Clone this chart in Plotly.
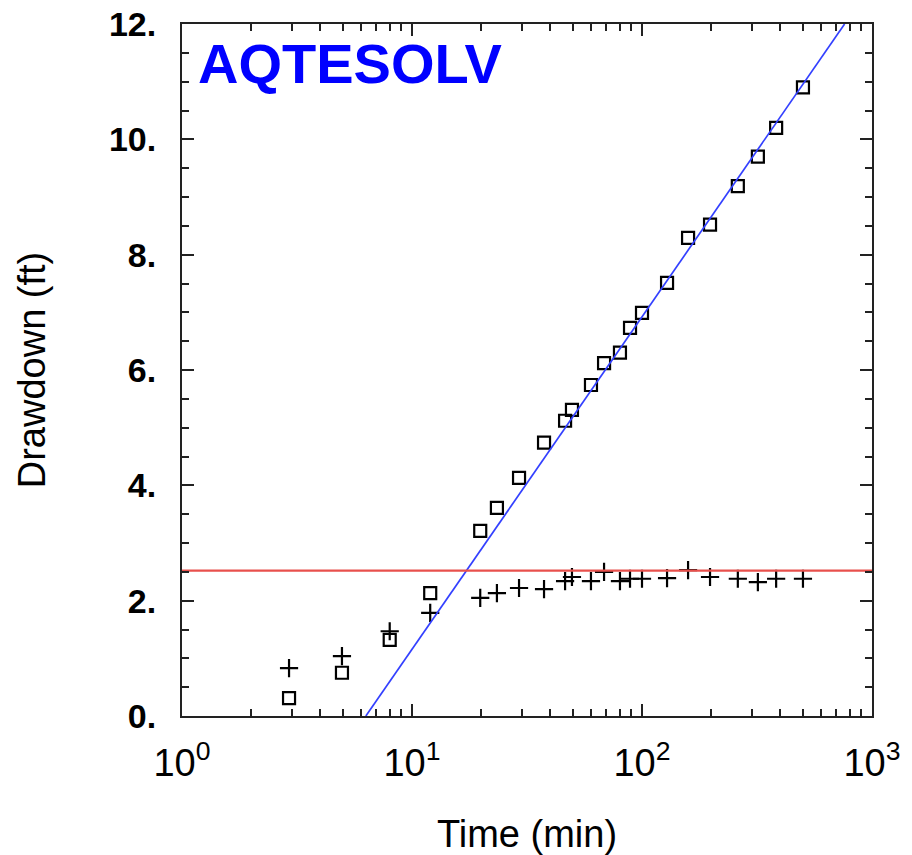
import plotly.graph_objects as go

# Data
time_min = [2.92, 4.96, 8.0, 12.0, 19.8, 23.4, 29.2, 37.5, 46.3, 49.6, 60.0,
            68.4, 80.2, 88.7, 100.0, 128.5, 158.6, 197.6, 261.0, 319.0, 383.0, 501.0]
drawdown_sq = [0.31, 0.75, 1.32, 2.13, 3.21, 3.61, 4.13, 4.74, 5.12, 5.31, 5.74,
               6.12, 6.30, 6.73, 6.99, 7.51, 8.29, 8.52, 9.19, 9.70, 10.2, 10.9]
drawdown_plus = [0.83, 1.04, 1.47, 1.79, 2.05, 2.13, 2.22, 2.20, 2.34, 2.41, 2.34,
                 2.50, 2.34, 2.38, 2.38, 2.39, 2.53, 2.41, 2.38, 2.32, 2.38, 2.38]
fit_time = [6.3, 760.0]
fit_drawdown = [0.0, 12.0]
ref_time = [1.0, 1000.0]
ref_drawdown = [2.52, 2.52]

y_ticks = [0, 2, 4, 6, 8, 10, 12]
y_ticktext = ["0.", "2.", "4.", "6.", "8.", "10.", "12."]
x_ticks = [1, 10, 100, 1000]
x_ticktext = ["10<sup>0</sup>", "10<sup>1</sup>", "10<sup>2</sup>", "10<sup>3</sup>"]
x_minor = [m * d for d in (1, 10, 100) for m in range(2, 10)]

FONT = "Liberation Sans, Arial, sans-serif"
AX = "#222222"

fig = go.Figure()
fig.add_trace(go.Scatter(x=time_min, y=drawdown_sq, mode="markers",
                         marker=dict(symbol="square-open", size=12, color="black",
                                     line=dict(width=2.2, color="black")),
                         showlegend=False))
fig.add_trace(go.Scatter(x=time_min, y=drawdown_plus, mode="markers",
                         marker=dict(symbol="cross-thin", size=13, color="black",
                                     line=dict(width=2.2, color="black")),
                         showlegend=False))
fig.add_trace(go.Scatter(x=fit_time, y=fit_drawdown, mode="lines",
                         line=dict(color="#3340ff", width=1.7), showlegend=False))
fig.add_trace(go.Scatter(x=ref_time, y=ref_drawdown, mode="lines",
                         line=dict(color="#e8504c", width=2.2), showlegend=False))

fig.update_layout(
    width=912, height=855,
    margin=dict(l=182, r=40, t=24, b=139, autoexpand=False),
    paper_bgcolor="white", plot_bgcolor="white",
    font=dict(family=FONT, color="black"),
)
fig.update_xaxes(
    type="log", range=[0, 3], showgrid=False, zeroline=False, automargin=False,
    showline=True, linecolor=AX, linewidth=2, mirror="ticks",
    ticks="inside", ticklen=12, tickwidth=2, tickcolor=AX,
    tickvals=x_ticks, ticktext=x_ticktext,
    tickfont=dict(size=38, family=FONT, color="black"),
    ticklabelstandoff=12,
    minor=dict(tickvals=x_minor, ticks="inside", ticklen=7, tickwidth=2, tickcolor=AX),
    title=dict(text="Time (min)", font=dict(size=38, family=FONT), standoff=42),
)
fig.update_yaxes(
    range=[0, 12], showgrid=False, zeroline=False, automargin=False,
    showline=True, linecolor=AX, linewidth=2, mirror="ticks",
    ticks="inside", ticklen=12, tickwidth=2, tickcolor=AX,
    tickvals=y_ticks, ticktext=y_ticktext,
    tickfont=dict(size=34, family=FONT, color="black", weight="bold"),
    ticklabelstandoff=17,
    minor=dict(dtick=0.5, ticks="inside", ticklen=7, tickwidth=2, tickcolor=AX),
    title=dict(text="Drawdown (ft)", font=dict(size=38, family=FONT), standoff=52),
)
fig.add_annotation(
    xref="paper", yref="paper", x=0.022, y=0.943, xanchor="left", yanchor="middle",
    text="<b>AQTESOLV</b>", showarrow=False, borderpad=0,
    font=dict(size=56, color="#0000ff", family=FONT),
)
fig.write_html("out.html")
